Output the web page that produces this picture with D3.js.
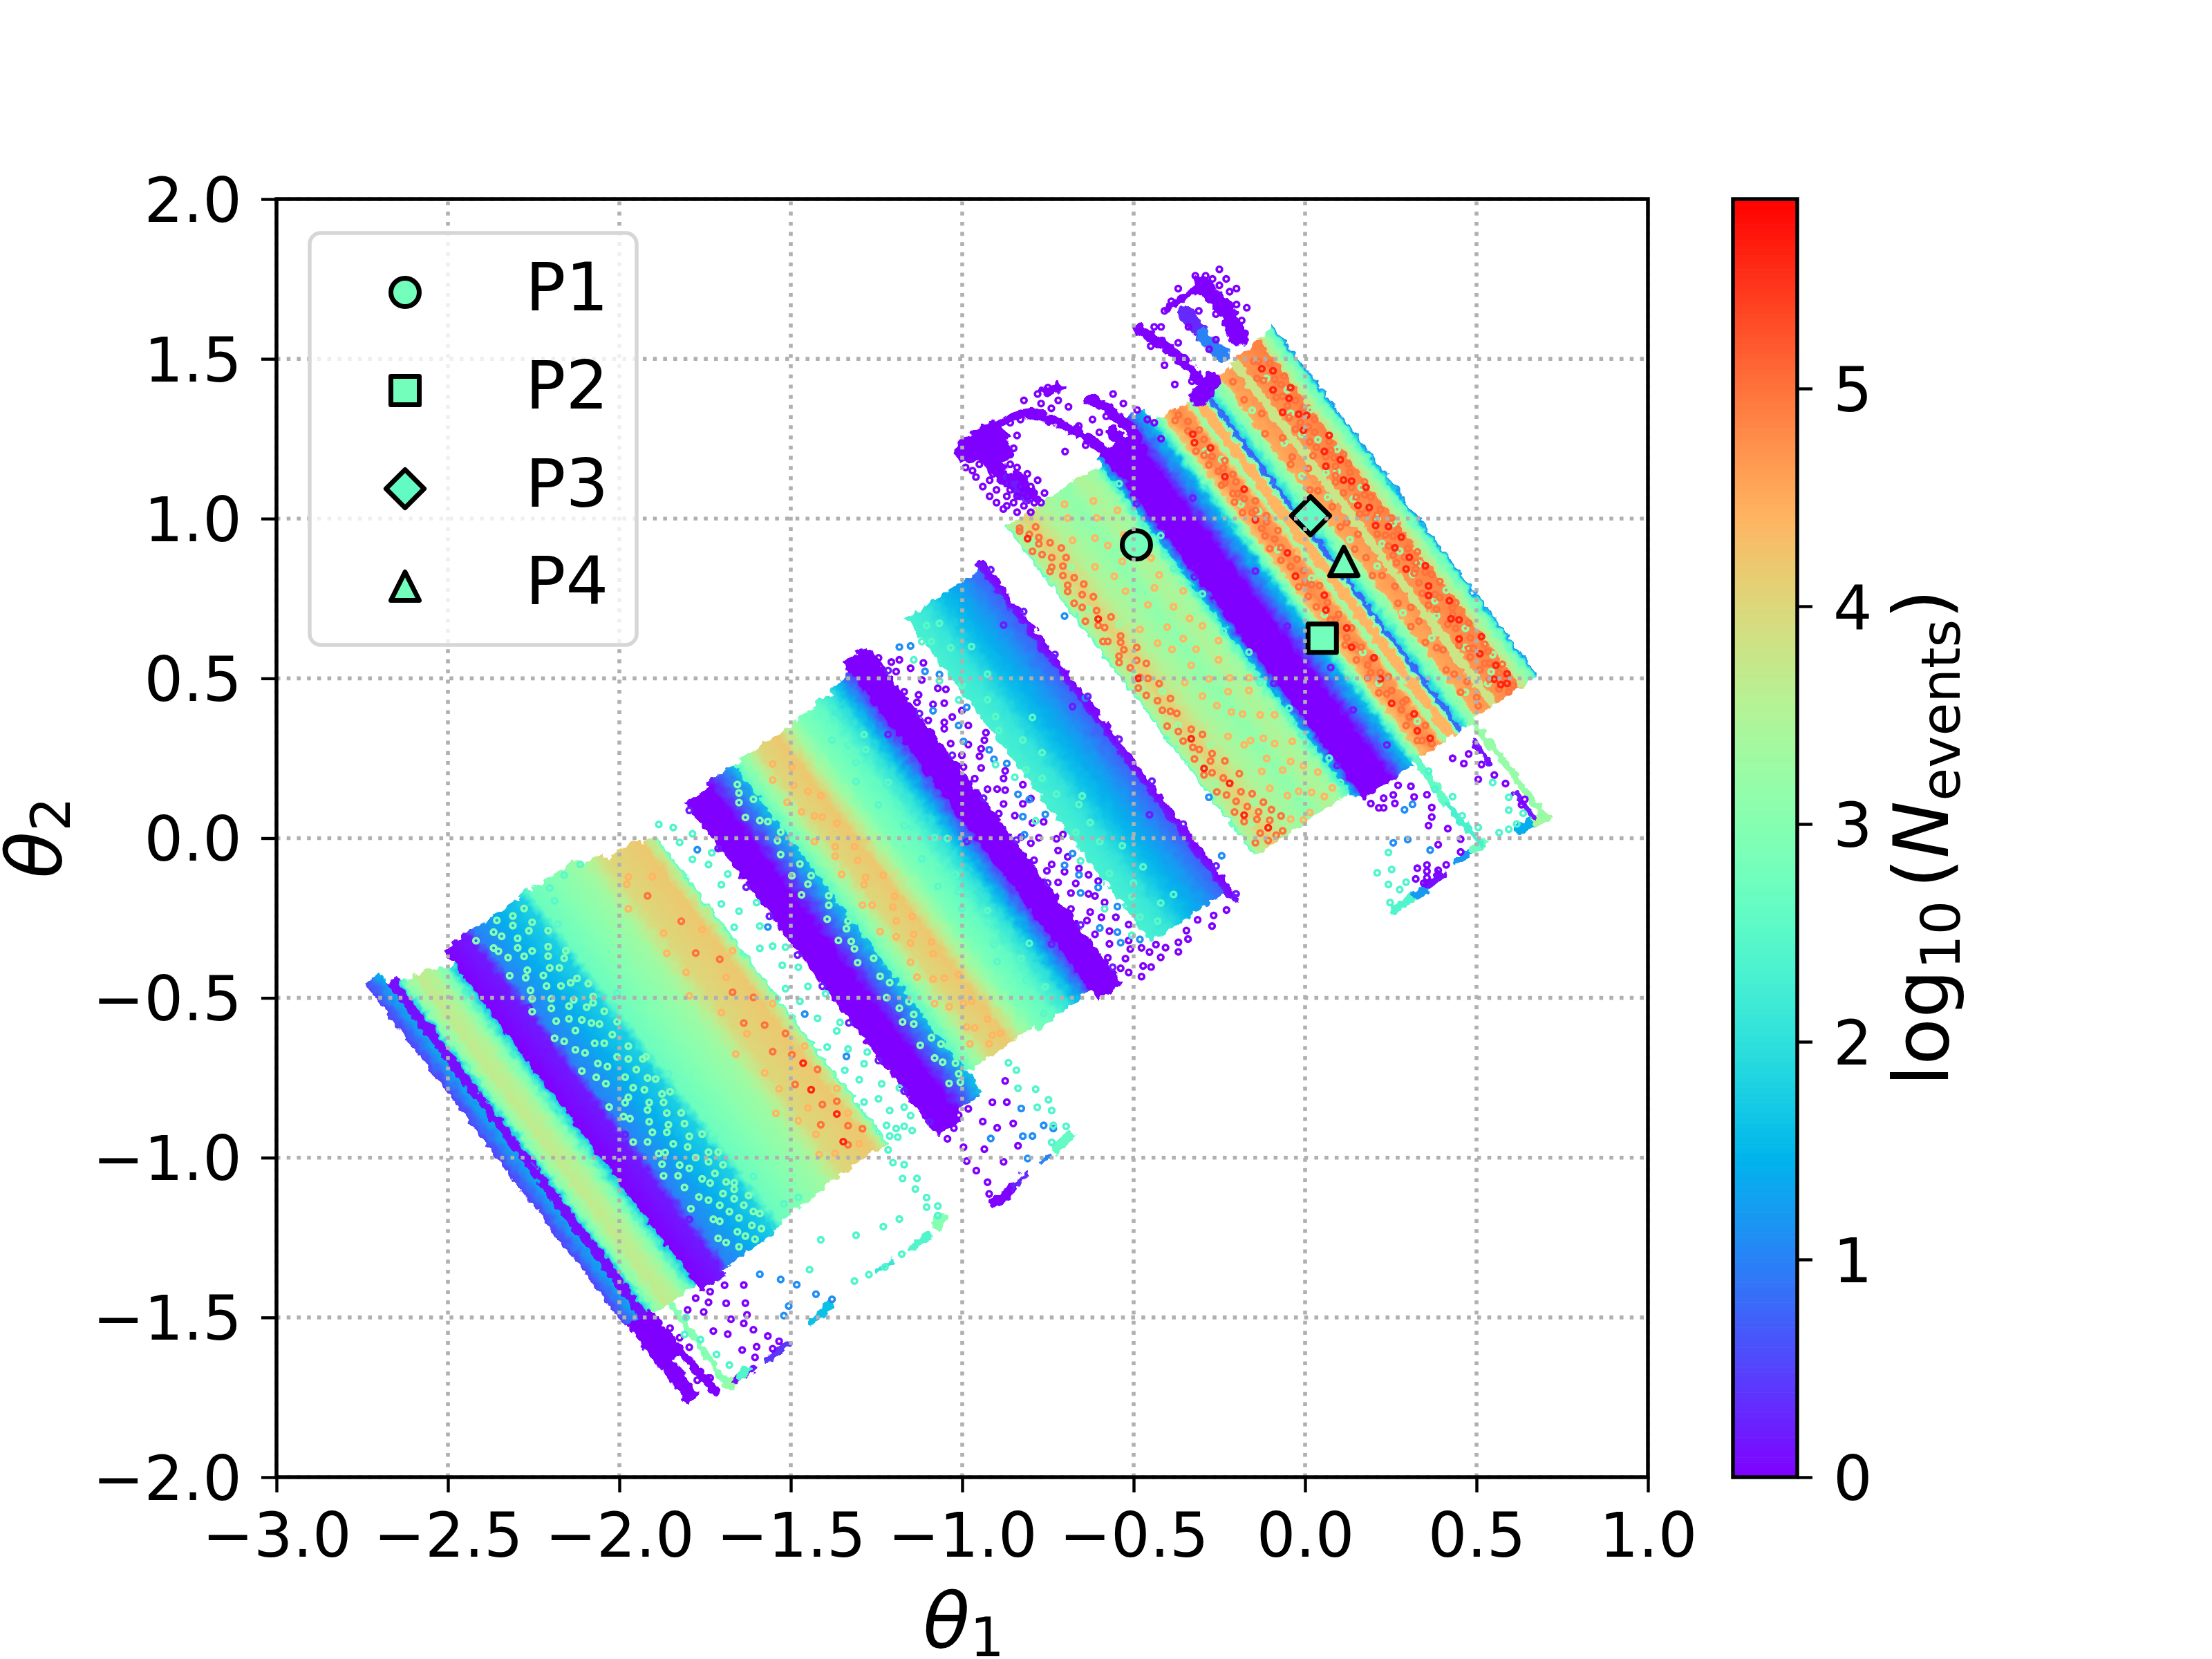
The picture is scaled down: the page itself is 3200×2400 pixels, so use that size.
<!DOCTYPE html>
<html>
<head>
<meta charset="utf-8">
<script src="https://cdn.jsdelivr.net/npm/d3@7"></script>
<style>
  body { margin: 0; background: #fff; }
  text { font-family: "DejaVu Sans"; fill: #000; }
</style>
</head>
<body>
<div id="holder"></div>
<script>
var width = 3200;
var height = 2400;
var frame = {left: 400, right: 2384, top: 288, bottom: 2137};
var xTicks = [-3, -2.5, -2, -1.5, -1, -0.5, 0, 0.5, 1];
var yTicks = [-2, -1.5, -1, -0.5, 0, 0.5, 1, 1.5, 2];
var barTicks = [0, 1, 2, 3, 4, 5];
var barMax = 5.87;

// benchmark points
var pointNames = ["P1", "P2", "P3", "P4"];
var pointTheta1 = [-0.492, 0.05, 0.016, 0.113];
var pointTheta2 = [0.918, 0.626, 1.009, 0.866];
var pointValue = [2.8, 2.8, 2.6, 2.8];

// scan strips, along the rotated axes
// c = theta2 + 1.418 theta1, s = theta2 - 0.72 theta1
// each row: c0, c1, log N at c0, log N at c1, s0, s1
var bandsLow = [
  [-4.325,-4.25,0,0,-0.47,-0.09], [-4.25,-4.2,0,0,-0.3,-0.09],
  [-4.34,-4.25,0.5,1.4,-0.1,1.52], [-4.25,-4.2,0.1,0.1,-0.1,1.47], [-4.2,-4.17,1.8,3.0,-0.11,1.45],
  [-4.17,-4.1,3.0,3.7,-0.118,1.44], [-4.1,-4.03,3.7,3.5,-0.118,1.43], [-4.03,-3.97,3.5,2.9,-0.118,1.41],
  [-3.97,-3.91,2.9,1.6,-0.118,1.39], [-3.91,-3.76,0,0.2,-0.148,1.458], [-3.76,-3.72,0.3,1.0,-0.13,1.46],
  [-3.72,-3.42,1.0,1.8,-0.12,1.46], [-3.42,-3.37,1.9,2.7,-0.11,1.47], [-3.37,-3.07,2.7,3.3,-0.09,1.46],
  [-3.07,-2.95,3.3,4.0,-0.075,1.43], [-2.95,-2.76,4.0,4.2,-0.075,1.4], [-2.76,-2.7,4.2,3.5,-0.075,1.37],
  [-2.7,-2.68,3.5,2.6,-0.075,1.36]
];
var bandsMiddle = [
  [-2.45,-2.3,0,0,-0.16,1.41], [-2.3,-2.13,0,1.6,-0.12,1.43], [-2.13,-2.06,2.6,3.2,-0.02,1.43],
  [-2.06,-1.98,3.2,4.0,-0.02,1.43], [-1.98,-1.86,4.0,4.2,-0.02,1.43], [-1.86,-1.78,4.2,3.4,-0.02,1.43],
  [-1.78,-1.71,3.4,2.9,-0.02,1.43], [-1.71,-1.6,2.9,2.6,-0.04,1.44], [-1.6,-1.5,2.6,2.0,-0.03,1.45],
  [-1.5,-1.43,2.0,1.3,-0.03,1.46], [-1.43,-1.36,1.3,0.4,-0.02,1.47], [-1.36,-1.21,0,0,-0.07,1.52],
  [-0.96,-0.85,2.3,2.1,0,1.52], [-0.85,-0.75,2.1,1.6,0,1.52], [-0.75,-0.62,1.6,1.2,0,1.52],
  [-0.62,-0.5,1.2,0.7,0,1.52], [-0.5,-0.465,0.2,0,-0.05,1.55]
];
var bandsHigh = [
  [-0.26,-0.245,2.6,3.4,0.05,1.6], [-0.245,-0.15,3.4,4.1,0.05,1.6], [-0.15,-0.05,4.1,3.5,0.05,1.6],
  [-0.05,0.1,3.5,3.1,0.05,1.6], [0.1,0.2,3.1,3.5,0.05,1.6], [0.2,0.29,3.5,3.2,0.05,1.6],
  [0.29,0.33,3.0,2.2,0.05,1.58], [0.33,0.37,1.5,0.3,0.02,1.62], [0.37,0.53,0,0,0,1.63], [0.53,0.55,0,0,0,1.68],
  [0.55,0.61,0.1,0.9,0,1.69], [0.61,0.67,0.9,1.6,0,1.68], [0.67,0.7,1.8,2.7,0.015,1.62],
  [0.7,0.74,2.7,3.7,0.015,1.615], [0.74,0.8,4.3,4.8,0.015,1.615], [0.8,0.86,4.8,4.6,0.015,1.61],
  [0.86,0.885,4.4,3.2,0.015,1.61], [0.885,0.905,3.2,3.6,0.015,1.605], [0.905,0.955,4.4,4.4,0.015,1.605],
  [0.955,0.972,3.4,2.4,0.015,1.605], [0.972,0.995,0.9,0.6,0.015,1.605], [0.995,1.03,1.8,2.6,0.015,1.61],
  [1.03,1.06,2.7,3.2,0.015,1.62], [1.06,1.09,3.0,3.6,0.025,1.62], [1.09,1.18,4.5,4.7,0.025,1.63],
  [1.18,1.225,3.8,3.8,0.025,1.64], [1.225,1.37,4.7,4.9,0.025,1.65], [1.37,1.42,3.8,3.1,0.025,1.66],
  [1.42,1.455,3.0,2.6,0.025,1.665], [1.455,1.47,2.4,1.2,0.025,1.67]
];

// thin tails below the blocks, as c, s chains: log N, stroke, then c,s pairs
var tailPaths = [
  [0, 12, -4.2,-0.12, -4.19,-0.3, -4.17,-0.49],
  [3.0, 9, -4.08,-0.13, -4.09,-0.3, -4.1,-0.49], [3.2, 13, -4.11,-0.5, -4.05,-0.5],
  [0.1, 12, -4.05,-0.5, -3.95,-0.5], [2.4, 13, -4.02,-0.5, -3.97,-0.49], [0.4, 11, -3.85,-0.5, -3.72,-0.497],
  [1.6, 11, -3.55,-0.48, -3.43,-0.462], [2.1, 7, -3.12,-0.458, -3.03,-0.457], [2.4, 9, -2.92,-0.455, -2.8,-0.451],
  [3.0, 14, -2.74,-0.44, -2.694,-0.425],
  [0, 15, -2.427,-0.4885, -2.3,-0.48], [0.3, 8, -2.3,-0.48, -2.211,-0.467], [1.0, 7, -2.1,-0.46, -2.058,-0.458],
  [2.6, 13, -2.0,-0.45, -1.904,-0.44],
  [2.4, 13, 0.143,-0.412, 0.285,-0.412], [1.2, 13, 0.285,-0.412, 0.365,-0.405], [0.1, 13, 0.365,-0.405, 0.444,-0.4],
  [1.2, 11, 0.57,-0.39, 0.64,-0.39], [2.7, 11, 0.66,-0.388, 0.72,-0.387], [1.4, 15, 0.92,-0.42, 0.99,-0.43],
  [3.4, 15, 1.01,-0.43, 1.055,-0.44], [3.2, 10, 1.055,0.02, 1.06,-0.25, 1.056,-0.44], [2.6, 11, 0.71,0.01, 0.7,-0.1, 0.69,-0.2],
  [2.3, 9, 0.69,-0.2, 0.7,-0.3, 0.71,-0.385], [0.1, 8, 1.0,-0.05, 1.0,-0.15], [0.2, 8, 1.01,-0.3, 1.01,-0.42]
];

// top loops, in theta1, theta2
var loopPaths = [
  [0, 26, -0.3,1.731, -0.234,1.659, -0.193,1.566], [0.3, 22, -0.35,1.643, -0.299,1.576], [1.0, 20, -0.299,1.576, -0.241,1.509],
  [0, 10, -0.401,1.659, -0.311,1.721], [0, 16, -0.485,1.592, -0.401,1.535, -0.337,1.473, -0.286,1.4],
  [0, 26, -0.311,1.379, -0.27,1.43], [0, 36, -0.985,1.21, -0.916,1.265, -0.89,1.215], [0, 22, -0.93,1.2, -0.88,1.13],
  [0, 13, -0.916,1.276, -0.851,1.322, -0.8,1.333, -0.723,1.302, -0.646,1.26, -0.588,1.214, -0.556,1.162],
  [0, 11, -0.768,1.4, -0.71,1.41], [0, 15, -0.626,1.374, -0.569,1.338, -0.504,1.276, -0.47,1.2],
  [0, 20, -0.56,1.27, -0.5,1.19], [0.2, 16, -0.87,1.13, -0.81,1.06], [0, 12, -0.84,1.14, -0.79,1.07]
];
var loopRings = [
  -0.99,1.16, -0.96,1.13, -0.93,1.18, -0.91,1.14, -0.88,1.19, -0.86,1.13, -0.94,1.1, -0.9,1.09, -0.87,1.07, -0.84,1.16,
  -0.83,1.1, -0.81,1.14, -0.79,1.08, -0.78,1.12, -0.85,1.05, -0.82,1.04, -0.88,1.03, -0.9,1.05, -0.77,1.05, -0.86,1.2,
  -0.84,1.07, -0.79,1.05, -0.8,1.02, -0.75,1.41, -0.74,1.345, -0.78,1.39, -0.82,1.37, -0.72,1.37, -0.74,1.31, -0.62,1.31,
  -0.64,1.23, -0.7,1.21, -0.56,1.39, -0.42,1.6, -0.39,1.68, -0.37,1.72, -0.45,1.54, -0.37,1.55, -0.35,1.5, -0.25,1.73,
  -0.22,1.71, -0.2,1.67, -0.25,1.78, -0.29,1.76, -0.185,1.62, -0.38,1.42, -0.33,1.43,
  -0.97,1.15, -0.95,1.17, -0.92,1.12, -0.89,1.16, -0.87,1.11, -0.85,1.13, -0.83,1.13, -0.92,1.07, -0.86,1.09, -0.82,1.08,
  -0.8,1.1, -0.78,1.06, -0.76,1.08, -0.87,1.04, -0.84,1.02, -0.81,1.07, -0.86,1.17, -0.85,1.22, -0.89,1.24, -0.84,1.26,
  -0.86,1.3, -0.83,1.31, -0.77,1.36, -0.69,1.35, -0.66,1.29, -0.6,1.27, -0.58,1.32, -0.53,1.36, -0.49,1.34, -0.46,1.31,
  -0.42,1.25, -0.44,1.3, -0.41,1.48, -0.44,1.6, -0.41,1.65, -0.36,1.69, -0.32,1.76, -0.27,1.75, -0.23,1.75, -0.2,1.72,
  -0.17,1.66, -0.175,1.58, -0.21,1.61, -0.26,1.64, -0.31,1.65, -0.34,1.6, -0.28,1.53, -0.26,1.56
];

// orange and red rings over the strips, as flat c, s pairs
var ringsRed = [
  1.29,1.56, 1.33,1.53, 1.27,1.47, 1.35,1.44, 1.31,1.41, 1.24,1.38, 1.3,1.34, 1.33,1.32, 1.27,1.28, 1.36,1.21,
  1.29,1.17, 1.25,1.12, 1.33,1.11, 1.28,1.04, 1.31,1.02, 1.35,0.97, 1.26,0.93, 1.3,0.9, 1.27,0.83, 1.32,0.8,
  1.34,0.74, 1.28,0.72, 1.31,0.66, 1.26,0.63, 1.35,0.6, 1.3,0.53, 1.27,0.5, 1.34,0.44, 1.29,0.38, 1.32,0.36,
  1.26,0.3, 1.36,0.26, 1.3,0.21, 1.33,0.14, 1.28,0.1, 1.35,0.09, 1.32,0.06, 1.29,0.07,
  0.8,1.5, 0.78,1.47, 0.83,1.42, 0.8,1.3, 0.84,1.22, 0.79,1.1, 0.82,0.93, 0.78,0.84, 0.84,0.72, 0.8,0.67,
  0.83,0.57, 0.79,0.5, 0.85,0.42, 0.81,0.34, 0.78,0.24, 0.84,0.16, 0.8,0.1, 0.83,0.05,
  -0.19,0.85, -0.16,0.55, -0.2,0.43, -0.14,0.33, -0.18,0.2, -0.12,0.11, -0.21,1.52, -0.17,1.12, -2.83,0.25, -2.8,0.12, -2.86,0.02, -2.78,0.35
];
var ringsOrangeDeep = [
  1.28,1.6, 1.24,1.54, 1.34,1.56, 1.31,1.5, 1.26,1.44, 1.36,1.49, 1.29,1.43, 1.33,1.39, 1.25,1.35, 1.28,1.31,
  1.35,1.29, 1.31,1.25, 1.26,1.23, 1.34,1.19, 1.23,1.18, 1.28,1.15, 1.31,1.13, 1.36,1.12, 1.26,1.07, 1.33,1.05,
  1.29,1.0, 1.24,1.0, 1.36,0.99, 1.32,0.95, 1.27,0.89, 1.34,0.87, 1.29,0.85, 1.25,0.8, 1.36,0.82, 1.31,0.76,
  1.26,0.74, 1.33,0.69, 1.29,0.67, 1.24,0.67, 1.36,0.66, 1.3,0.61, 1.33,0.58, 1.27,0.56, 1.25,0.52, 1.36,0.52,
  1.31,0.47, 1.26,0.44, 1.33,0.41, 1.28,0.34, 1.35,0.33, 1.24,0.28, 1.31,0.28, 1.27,0.25, 1.34,0.2, 1.29,0.17,
  1.25,0.16, 1.32,0.11, 1.36,0.13, 1.27,0.06, 1.34,0.04,
  1.12,1.5, 1.15,1.42, 1.1,1.35, 1.14,1.22, 1.17,1.15, 1.11,1.08, 1.15,0.98, 1.12,0.9, 1.17,0.84, 1.13,0.75,
  1.1,0.68, 1.16,0.6, 1.12,0.54, 1.15,0.44, 1.11,0.36, 1.16,0.3, 1.13,0.2, 1.1,0.13, 1.15,0.08,
  0.77,1.58, 0.82,1.55, 0.79,1.52, 0.76,1.44, 0.83,1.46, 0.81,1.39, 0.77,1.37, 0.85,1.35, 0.79,1.33, 0.76,1.28,
  0.83,1.26, 0.78,1.23, 0.81,1.19, 0.85,1.16, 0.76,1.15, 0.8,1.13, 0.83,1.07, 0.78,1.03, 0.85,1.02, 0.76,0.98,
  0.81,0.96, 0.84,0.89, 0.79,0.88, 0.76,0.8, 0.82,0.78, 0.85,0.76, 0.77,0.7, 0.81,0.62, 0.84,0.63, 0.77,0.58,
  0.8,0.54, 0.83,0.48, 0.77,0.45, 0.79,0.38, 0.85,0.33, 0.82,0.28, 0.76,0.3, 0.8,0.2, 0.83,0.22, 0.77,0.14, 0.85,0.1, 0.79,0.06,
  -0.22,1.56, -0.19,1.53, -0.16,1.5, -0.23,1.47, -0.2,1.44, -0.13,1.46, -0.17,1.41, -0.22,1.37, -0.11,1.38, -0.18,1.33,
  -0.14,1.3, -0.21,1.27, -0.16,1.23, -0.2,1.19, -0.12,1.2, -0.23,1.14, -0.17,1.08, -0.2,1.03, -0.13,1.02, -0.16,0.97,
  -0.22,0.94, -0.19,0.9, -0.11,0.88, -0.15,0.83, -0.21,0.78, -0.18,0.74, -0.12,0.72, -0.16,0.68, -0.22,0.64, -0.19,0.6,
  -0.13,0.58, -0.16,0.5, -0.21,0.48, -0.12,0.46, -0.18,0.4, -0.09,0.41, -0.15,0.36, -0.22,0.33, -0.12,0.28, -0.17,0.26,
  -0.08,0.25, -0.2,0.18, -0.14,0.16, -0.09,0.13, -0.17,0.11, -0.05,0.16, -0.22,0.09, -0.11,0.07,
  -2.9,1.2, -2.84,1.05, -2.88,0.92, -2.8,0.85, -2.85,0.72, -2.78,0.66, -2.9,0.6, -2.82,0.55, -2.76,0.48, -2.87,0.45,
  -2.8,0.4, -2.74,0.3, -2.88,0.3, -2.83,0.18, -2.76,0.16, -2.9,0.12, -2.79,0.06, -2.85,0.0, -2.74,0.02,
  1.3,1.59, 1.26,1.52, 1.32,1.47, 1.28,1.39, 1.34,1.35, 1.24,1.3, 1.3,1.28, 1.27,1.2, 1.32,1.16, 1.35,1.08,
  1.29,1.1, 1.24,1.05, 1.28,0.96, 1.34,0.93, 1.24,0.9, 1.31,0.86, 1.28,0.78, 1.35,0.77, 1.25,0.7, 1.32,0.63,
  1.28,0.6, 1.35,0.56, 1.3,0.49, 1.24,0.47, 1.36,0.42, 1.31,0.39, 1.26,0.37, 1.35,0.23, 1.29,0.24, 1.25,0.22,
  1.31,0.16, 1.26,0.11, 1.33,0.08, 1.3,0.03, 1.13,1.58, 1.16,1.3, 1.11,1.2, 1.14,1.06, 1.16,0.9, 1.11,0.8,
  1.14,0.66, 1.16,0.5, 1.1,0.44, 1.14,0.32, 1.11,0.23, 1.16,0.15, 1.13,0.05,
  0.8,1.59, 0.84,1.5, 0.78,1.41, 0.82,1.33, 0.78,1.28, 0.84,1.29, 0.8,1.22, 0.76,1.2, 0.82,1.13, 0.79,1.06,
  0.85,1.09, 0.81,1.0, 0.77,0.92, 0.83,0.84, 0.8,0.8, 0.77,0.75, 0.83,0.69, 0.79,0.63, 0.85,0.56, 0.81,0.5,
  0.77,0.52, 0.84,0.42, 0.8,0.41, 0.76,0.37, 0.83,0.36, 0.79,0.28, 0.85,0.22, 0.81,0.16, 0.77,0.07, 0.82,0.03,
  -0.21,1.57, -0.14,1.54, -0.18,1.48, -0.1,1.42, -0.2,1.38, -0.15,1.36, -0.19,1.29, -0.12,1.26, -0.22,1.22, -0.15,1.15,
  -0.19,1.1, -0.11,1.1, -0.22,1.04, -0.15,1.0, -0.2,0.96, -0.1,0.95, -0.14,0.91, -0.18,0.85, -0.22,0.82, -0.12,0.79,
  -0.19,0.7, -0.14,0.66, -0.2,0.56, -0.1,0.54, -0.18,0.52, -0.15,0.44, -0.22,0.41, -0.07,0.34, -0.19,0.3, -0.14,0.22,
  -0.06,0.2, -0.21,0.23, -0.11,0.18, -0.03,0.12, -0.16,0.07, -0.07,0.07
];
var ringsOrangeLight = [
  0.02,1.5, 0.14,1.44, 0.07,1.38, 0.2,1.33, -0.02,1.29, 0.11,1.25, 0.24,1.2, 0.03,1.15, 0.16,1.1, 0.27,1.03,
  -0.03,1.0, 0.09,0.95, 0.21,0.93, 0.04,0.87, 0.14,0.82, 0.26,0.8, -0.01,0.74, 0.1,0.7, 0.19,0.66, 0.05,0.6,
  0.23,0.58, 0.13,0.52, 0.0,0.48, 0.08,0.42, 0.26,0.45, 0.17,0.36, 0.03,0.3, 0.12,0.26, 0.22,0.23, 0.06,0.17,
  0.17,0.13, 0.27,0.1, 0.0,0.09, 0.1,0.07,
  0.05,1.55, 0.18,1.5, -0.03,1.42, 0.25,1.42, 0.1,1.33, 0.16,1.26, 0.03,1.22, 0.22,1.13, 0.08,1.06, 0.18,1.0,
  0.0,0.92, 0.24,0.88, 0.12,0.88, 0.07,0.78, 0.2,0.74, 0.02,0.66, 0.14,0.62, 0.27,0.62, 0.09,0.55, 0.2,0.48,
  0.04,0.42, 0.14,0.4, 0.25,0.33, 0.09,0.33, 0.18,0.27, 0.01,0.23, 0.26,0.18, 0.12,0.16, 0.21,0.09, 0.05,0.06,
  -2.02,1.3, -1.95,1.24, -1.9,1.3, -2.0,1.14, -1.93,1.08, -1.87,1.15, -2.04,1.02, -1.97,0.96, -1.89,0.92, -2.03,0.86,
  -1.94,0.8, -1.86,0.77, -2.0,0.7, -1.92,0.65, -2.05,0.6, -1.87,0.58, -1.96,0.5, -2.02,0.44, -1.9,0.42, -1.98,0.34,
  -1.86,0.3, -2.05,0.26, -1.93,0.2, -1.99,0.12, -1.88,0.1, -2.03,0.06, -1.95,0.02, -1.87,0.03,
  -1.97,1.35, -1.91,1.19, -2.03,1.2, -1.96,1.1, -1.89,1.03, -2.0,0.93, -1.92,0.87, -1.97,0.78, -2.04,0.72, -1.88,0.68,
  -1.95,0.6, -2.0,0.55, -1.92,0.52, -1.87,0.46, -2.04,0.38, -1.93,0.32, -2.0,0.22, -1.89,0.19, -1.96,0.1, -1.91,0.04,
  -3.02,1.2, -2.95,1.28, -3.0,0.98, -3.04,0.8, -2.96,0.68, -3.03,0.52, -2.97,0.4, -3.05,0.25, -2.95,0.1, -3.0,0.03, -2.72,0.6, -2.72,0.2,
  -2.92,1.3, -2.82,1.25, -2.95,1.05, -2.78,0.98, -2.98,0.88, -2.83,0.78, -2.92,0.56, -2.72,0.85, -2.96,0.32, -2.72,0.4,
  -2.9,0.2, -2.98,0.18, -2.75,0.1, -2.93,0.0, -2.8,-0.02
];
var ringsGreenOnOrange = [
  1.28,1.52, 1.33,1.44, 1.27,1.36, 1.36,1.33, 1.3,1.22, 1.25,1.27, 1.35,1.15, 1.28,1.08, 1.23,1.1, 1.33,0.98,
  1.26,0.96, 1.3,0.85, 1.35,0.8, 1.24,0.76, 1.29,0.7, 1.33,0.62, 1.27,0.6, 1.36,0.48, 1.28,0.47, 1.24,0.42, 1.32,0.32,
  1.26,0.26, 1.35,0.18, 1.29,0.13, 1.24,0.1, 1.12,1.45, 1.15,1.28, 1.12,1.14, 1.16,1.02, 1.12,0.84, 1.15,0.7, 1.11,0.5, 1.15,0.36,
  1.12,0.12, 0.8,1.42, 0.84,1.36, 0.78,1.18, 0.83,1.12, 0.79,0.96, 0.84,0.8, 0.78,0.66, 0.82,0.46, 0.79,0.33, 0.83,0.13,
  -0.2,1.5, -0.12,1.34, -0.18,1.17, -0.1,1.06, -0.2,0.87, -0.13,0.76, -0.17,0.62, -0.1,0.49, -0.2,0.36, -0.1,0.22, -0.17,0.16
];
var ringsGreenOnBlue = [
  -3.7,1.36, -3.63,1.38, -3.55,1.39, -3.67,1.3, -3.6,1.31, -3.5,1.34, -3.72,1.24, -3.63,1.22, -3.55,1.27, -3.47,1.25,
  -3.58,1.17, -3.68,1.15, -3.49,1.16, -3.74,1.08, -3.62,1.08, -3.54,1.1, -3.45,1.09, -3.67,1.0, -3.57,1.02, -3.5,0.98,
  -3.73,0.95, -3.62,0.93, -3.53,0.92, -3.44,0.93, -3.68,0.87, -3.58,0.85, -3.48,0.84, -3.72,0.79, -3.63,0.78, -3.53,0.76,
  -3.45,0.77, -3.66,0.7, -3.56,0.68, -3.49,0.68, -3.72,0.62, -3.61,0.61, -3.52,0.6, -3.44,0.61, -3.67,0.54, -3.57,0.53,
  -3.48,0.52, -3.73,0.46, -3.62,0.45, -3.53,0.44, -3.44,0.45, -3.66,0.37, -3.57,0.37, -3.48,0.36, -3.71,0.29, -3.61,0.29,
  -3.52,0.28, -3.45,0.27, -3.66,0.21, -3.56,0.2, -3.49,0.19, -3.7,0.13, -3.6,0.12, -3.52,0.11, -3.44,0.12, -3.64,0.05,
  -3.55,0.04, -3.47,0.03, -3.68,-0.02, -3.58,-0.04, -3.5,-0.05, -3.43,-0.03, -3.62,-0.09, -3.53,-0.1,
  -3.75,1.42, -3.6,1.44, -3.45,1.42, -3.41,1.2, -3.41,0.7, -3.41,0.25, -3.44,1.0, -3.46,0.55, -3.46,0.1,
  -3.65,1.41, -3.52,1.42, -3.69,1.34, -3.57,1.34, -3.46,1.36, -3.6,1.27, -3.5,1.22, -3.42,1.3, -3.66,1.2, -3.53,1.18,
  -3.44,1.18, -3.7,1.12, -3.6,1.13, -3.49,1.09, -3.42,1.05, -3.65,1.05, -3.53,1.03, -3.61,0.98, -3.46,0.98, -3.7,0.92,
  -3.56,0.95, -3.5,0.9, -3.42,0.87, -3.65,0.84, -3.54,0.83, -3.6,0.75, -3.49,0.73, -3.43,0.7, -3.68,0.74, -3.56,0.63,
  -3.47,0.63, -3.64,0.6, -3.69,0.56, -3.54,0.55, -3.42,0.54, -3.6,0.49, -3.5,0.48, -3.67,0.43, -3.56,0.42, -3.46,0.41,
  -3.63,0.36, -3.52,0.33, -3.42,0.34, -3.68,0.33, -3.58,0.26, -3.48,0.24, -3.43,0.2, -3.65,0.26, -3.54,0.17, -3.63,0.15,
  -3.47,0.14, -3.57,0.08, -3.49,0.07, -3.42,0.05, -3.62,0.03, -3.53,0.0, -3.45,-0.01, -3.66,-0.05, -3.56,-0.07, -3.47,-0.08,
  -2.23,1.3, -2.18,1.36, -2.2,1.2, -2.15,1.12, -2.22,1.05, -2.17,0.98, -2.2,0.9, -2.15,0.82, -2.23,0.75, -2.18,0.68,
  -2.21,0.6, -2.16,0.53, -2.19,0.46, -2.23,0.38, -2.15,0.32, -2.2,0.24, -2.17,0.16, -2.22,0.09, -2.15,0.03, -2.19,-0.04, -2.24,0.16, -2.24,0.55,
  -2.16,1.28, -2.2,1.33, -2.25,1.24, -2.17,1.18, -2.19,1.1, -2.24,0.96, -2.16,0.92, -2.18,0.79, -2.15,0.7, -2.2,0.63,
  -2.25,0.66, -2.17,0.42, -2.21,0.32, -2.17,0.27, -2.24,0.27, -2.15,0.12, -2.2,0.06, -2.17,-0.01, -2.24,-0.02, -2.26,0.88
];
var ringsCyanEdge = [
  -0.93,1.4, -0.87,1.34, -0.94,1.2, -0.88,1.1, -0.93,0.98, -0.86,0.9, -0.94,0.8, -0.89,0.66, -0.83,0.58, -0.93,0.5,
  -0.86,0.42, -0.92,0.3, -0.85,0.22, -0.93,0.1, -0.87,0.05, -0.78,1.3, -0.75,0.95, -0.79,0.6, -0.76,0.25, -0.72,0.1,
  -0.9,1.46, -0.84,1.44, -0.8,1.18, -0.9,1.03, -0.82,0.82, -0.9,0.74, -0.84,0.5, -0.78,0.36, -0.9,0.18, -0.8,0.1,
  -1.65,1.3, -1.58,1.36, -1.62,1.18, -1.55,1.05, -1.66,1.0, -1.59,0.86, -1.65,0.74, -1.56,0.62, -1.64,0.5, -1.58,0.4,
  -1.66,0.26, -1.6,0.14, -1.54,0.08, -1.63,0.0, -1.5,1.25, -1.48,0.75, -1.47,0.25,
  -1.6,1.25, -1.54,1.2, -1.68,1.12, -1.58,0.96, -1.62,0.88, -1.53,0.78, -1.67,0.62, -1.6,0.56, -1.54,0.44, -1.62,0.32, -1.55,0.22,
  0.34,1.5, 0.31,1.38, 0.35,1.25, 0.3,1.12, 0.34,0.98, 0.31,0.82, 0.35,0.7, 0.3,0.58, 0.34,0.44, 0.31,0.33, 0.35,0.2, 0.32,0.1,
  -3.28,1.43, -3.18,1.44, -3.08,1.44, -3.3,1.38, -3.36,1.3, -3.33,0.96, -3.37,0.6, -3.34,0.1, -3.3,-0.05, -3.22,-0.06
];
var ringsPurpleOnBlue = [
  0.6,1.3, 0.63,0.94, 0.59,0.7, 0.64,0.48, 0.6,0.3, 0.63,0.12, 0.35,1.4, 0.36,1.05, 0.355,0.55, 0.36,0.16,
  -0.58,1.3, -0.55,0.9, -0.57,0.4, -1.4,1.2, -1.41,0.7, -1.38,0.2, -3.74,1.1, -3.74,0.5, -3.74,0.1,
  -2.46,1.38, -2.46,1.2, -2.465,1.02, -2.46,0.88, -2.465,0.7, -2.46,0.55, -2.465,0.38, -2.46,0.2, -2.45,0.05, -2.44,-0.1,
  -1.2,1.4, -1.205,1.2, -1.2,1.0, -1.205,0.8, -1.2,0.6, -1.205,0.4, -1.2,0.2, -1.2,0.0,
  -0.46,1.5, -0.455,1.3, -0.46,1.1, -0.455,0.9, -0.46,0.7, -0.455,0.5, -0.46,0.3, -0.455,0.1, -0.46,-0.03
];

// loose rings in the gaps between blocks
var gapPurple = [
  -1.2,1.46, -1.17,1.38, -1.12,1.41, -1.2,1.3, -1.15,1.26, -1.09,1.3, -1.03,1.35, -1.19,1.16, -1.13,1.12, -1.07,1.18,
  -1.02,1.22, -1.17,1.04, -1.1,1.0, -1.04,1.06, -1.19,0.94, -1.12,0.9, -1.06,0.96, -0.99,1.0, -1.16,0.82, -1.09,0.78,
  -1.03,0.84, -1.19,0.72, -1.13,0.68, -1.06,0.7, -1.0,0.76, -1.17,0.6, -1.1,0.56, -1.03,0.6, -1.19,0.5, -1.13,0.45,
  -1.06,0.48, -0.99,0.52, -1.16,0.38, -1.09,0.34, -1.03,0.38, -1.19,0.27, -1.12,0.22, -1.05,0.26, -0.99,0.3, -1.17,0.14,
  -1.1,0.12, -1.03,0.15, -1.19,0.04, -1.12,0.0, -1.05,0.05, -1.0,0.1, -1.15,-0.05, -1.07,-0.06, -1.0,-0.03, -0.95,-0.02,
  -0.92,-0.05, -0.85,-0.06, -0.78,-0.04, -0.7,-0.03, -0.62,-0.05, -0.55,-0.06,
  -1.16,1.42, -1.1,1.36, -1.18,1.24, -1.12,1.2, -1.05,1.24, -1.15,1.1, -1.08,1.12, -1.02,1.12, -1.16,0.98, -1.09,0.94,
  -1.02,0.98, -1.18,0.88, -1.12,0.8, -1.06,0.82, -1.01,0.7, -1.14,0.74, -1.15,0.56, -1.08,0.62, -1.03,0.52, -1.17,0.44,
  -1.1,0.4, -1.04,0.44, -1.14,0.32, -1.07,0.28, -1.01,0.34, -1.16,0.2, -1.09,0.18, -1.03,0.22, -1.14,0.08, -1.07,0.02,
  -1.02,0.0, -1.17,-0.02, -1.11,-0.09, -1.04,-0.08, -0.97,-0.07, -0.88,-0.09, -0.8,-0.07, -0.66,-0.08,
  -2.42,-0.19, -2.36,-0.17, -2.3,-0.14, -2.24,-0.14, -2.38,-0.25, -2.41,-0.3, -2.4,-0.35, -2.39,-0.41, -2.42,-0.45, -2.3,-0.3,
  -2.26,-0.38, -2.18,-0.26, -2.15,-0.36, -2.1,-0.28, -2.22,-0.21, -2.12,-0.17, -2.06,-0.2, -2.0,-0.13,
  -4.16,-0.2, -4.14,-0.3, -4.17,-0.4, -4.03,-0.18, -3.97,-0.22, -3.92,-0.2, -3.99,-0.3, -3.94,-0.34, -3.88,-0.3, -3.93,-0.42,
  -3.86,-0.44, -3.82,-0.38, -3.78,-0.43, -3.9,-0.47, -3.8,-0.48, -3.75,-0.47, -3.85,-0.24, -3.8,-0.18, -3.77,-0.28,
  -4.19,-0.16, -4.15,-0.25, -4.18,-0.34, -4.15,-0.44, -4.21,-0.42, -3.96,-0.16, -3.88,-0.17, -3.84,-0.34, -3.8,-0.32, -3.72,-0.22,
  0.4,-0.06, 0.45,-0.04, 0.5,-0.05, 0.55,-0.03, 0.58,-0.1, 0.62,-0.17, 0.59,-0.2, 0.55,-0.22, 0.62,-0.27, 0.53,-0.3,
  0.42,-0.34, 0.38,-0.38, 0.33,-0.36, 0.37,-0.33, 0.45,-0.38, 0.5,-0.38, 0.64,-0.33, 0.6,-0.37,
  0.86,-0.06, 0.89,-0.1, 0.94,-0.08, 0.96,-0.14, 0.98,-0.2, 1.0,-0.25, 0.9,-0.18, 1.03,-0.34, 1.0,-0.35,
  0.38,-0.03, 0.42,-0.07, 0.48,-0.08, 0.6,-0.06, 0.64,-0.12, 0.4,-0.36, 0.35,-0.39
];
var gapBlue = [
  -1.08,1.45, -1.03,1.43, -1.0,1.28, -0.99,1.12, -1.08,1.08, -1.03,0.94, -1.0,0.86, -1.1,0.66, -1.02,0.7, -1.0,0.62,
  -1.08,0.42, -1.01,0.44, -1.1,0.3, -0.99,0.18, -1.07,0.1, -1.0,0.03, -0.47,0.9, -0.4,0.12, -0.3,1.2, -0.27,0.33,
  -2.24,-0.28, -2.1,-0.34, -2.02,-0.25, -2.06,-0.36, -2.15,-0.42, -1.98,-0.35, -1.95,-0.38, -3.62,-0.22, -3.55,-0.28, -3.5,-0.33,
  -3.45,-0.4, -3.4,-0.45, -3.65,-0.4, -3.6,-0.38, 0.55,-0.12, 0.35,-0.2, 0.42,-0.22, 0.48,-0.3, 0.5,-0.12,
  -1.14,1.18, -1.05,1.32, -1.11,1.02, -1.04,0.9, -1.15,0.6, -1.05,0.74, -1.01,0.28, -1.13,0.15, -1.05,0.36, -1.09,0.06,
  -2.62,0.5, -2.55,1.24, -2.5,0.85, -2.58,0.28
];
var gapCyan = [
  -1.06,1.38, -1.02,1.26, -1.0,1.16, -1.05,0.88, -1.01,0.8, -1.06,0.62, -1.0,0.4, -1.05,0.2, -1.02,0.06, -0.97,1.42,
  -2.63,1.4, -2.58,1.36, -2.52,1.3, -2.6,1.22, -2.55,1.17, -2.5,1.1, -2.62,1.02, -2.57,0.96, -2.47,0.95, -2.53,0.87,
  -2.6,0.8, -2.49,0.75, -2.56,0.7, -2.62,0.62, -2.52,0.58, -2.47,0.52, -2.58,0.46, -2.5,0.4, -2.63,0.35, -2.55,0.3,
  -2.48,0.25, -2.6,0.18, -2.52,0.12, -2.46,0.07, -2.57,0.02, -2.63,-0.02, -2.5,-0.04, -2.56,-0.06, -2.62,-0.08,
  -2.6,1.3, -2.5,1.2, -2.56,1.08, -2.64,0.92, -2.54,0.78, -2.5,0.66, -2.6,0.55, -2.54,0.38, -2.63,0.24, -2.53,0.22,
  -2.65,0.1, -2.58,0.08, -2.5,0.0, -2.6,-0.05, -2.65,-0.06, -2.54,-0.09,
  -2.7,-0.1, -2.72,-0.15, -2.68,-0.18, -2.73,-0.22, -2.67,-0.25, -2.71,-0.28, -2.69,-0.33, -2.72,-0.36, -2.67,-0.38, -2.7,-0.41,
  -3.1,-0.3, -2.96,-0.33, -2.87,-0.34, -3.26,-0.24, -3.25,-0.44, -3.17,-0.45, -3.08,-0.46, -2.97,-0.455, -3.4,-0.31,
  -2.0,-0.42, -1.94,-0.37, -1.9,-0.32, -1.95,-0.28, -1.9,-0.22, -1.97,-0.18, -1.92,-0.12, -1.89,-0.4, -1.93,-0.08, -1.88,-0.28,
  0.3,-0.22, 0.26,-0.28, 0.2,-0.32, 0.23,-0.36, 0.15,-0.38, 0.28,-0.35, 0.19,-0.26,
  0.72,-0.05, 0.69,-0.12, 0.74,-0.18, 0.72,-0.26, 0.75,-0.33, 0.95,-0.22, 0.97,-0.3, 0.93,-0.34, 0.98,-0.38, 0.92,-0.4, 0.82,-0.39, 0.87,-0.4,
  -4.06,-0.2, -4.07,-0.3, -4.05,-0.38, -4.12,-0.25, -4.03,-0.44
];

var xScale = d3.scaleLinear().domain([-3, 1]).range([frame.left, frame.right]);
var yScale = d3.scaleLinear().domain([-2, 2]).range([frame.bottom, frame.top]);
var barScale = d3.scaleLinear().domain([0, barMax]).range([frame.bottom, frame.top]);

var svg = d3.select("#holder").append("svg")
  .attr("width", width).attr("height", height)
  .style("display", "block");
svg.append("rect").attr("width", width).attr("height", height).attr("fill", "#fff");
var defs = svg.append("defs");

// roughen the strip edges, the real points never make a clean line
var rough = defs.append("filter").attr("id", "rough")
  .attr("filterUnits", "userSpaceOnUse")
  .attr("x", 0).attr("y", 0).attr("width", width).attr("height", height)
  .attr("color-interpolation-filters", "sRGB");
rough.append("feTurbulence").attr("type", "fractalNoise").attr("baseFrequency", 0.09)
  .attr("numOctaves", 2).attr("seed", 4).attr("result", "noise");
rough.append("feDisplacementMap").attr("in", "SourceGraphic").attr("in2", "noise")
  .attr("scale", 14).attr("xChannelSelector", "R").attr("yChannelSelector", "G");

// matplotlib's rainbow colormap
function rainbow(v) {
  var t = Math.min(1, Math.max(0, v / barMax));
  var r = Math.min(1, Math.abs(2 * t - 0.5));
  var g = Math.sin(Math.PI * t);
  var b = Math.cos(Math.PI * t / 2);
  return d3.rgb(r * 255, g * 255, b * 255).formatHex();
}

function csX(c, s) { return xScale((c - s) / 2.138); }
function csY(c, s) { return yScale(s + 0.72 * (c - s) / 2.138); }

// strips
var bands = bandsLow.concat(bandsMiddle, bandsHigh);
var normal = [502 / 630, -380 / 630];
var bandLayer = svg.append("g").attr("filter", "url(#rough)");

bands.forEach(function(b, i) {
  var x0 = csX(b[0], b[4]), y0 = csY(b[0], b[4]);
  var x1 = csX(b[1], b[4]), y1 = csY(b[1], b[4]);
  var d = (x1 - x0) * normal[0] + (y1 - y0) * normal[1];
  var grad = defs.append("linearGradient")
    .attr("id", "band" + i)
    .attr("gradientUnits", "userSpaceOnUse")
    .attr("x1", x0).attr("y1", y0)
    .attr("x2", x0 + normal[0] * d).attr("y2", y0 + normal[1] * d);
  [0, 0.5, 1].forEach(function(o) {
    grad.append("stop").attr("offset", o).attr("stop-color", rainbow(b[2] + (b[3] - b[2]) * o));
  });
});

bandLayer.selectAll("polygon").data(bands).enter().append("polygon")
  .attr("points", function(b) {
    return [[b[0], b[4]], [b[1], b[4]], [b[1], b[5]], [b[0], b[5]]]
      .map(function(p) { return csX(p[0], p[1]) + "," + csY(p[0], p[1]); }).join(" ");
  })
  .attr("fill", function(b, i) { return "url(#band" + i + ")"; })
  .attr("stroke", function(b, i) { return "url(#band" + i + ")"; })
  .attr("stroke-width", 2)
  .attr("stroke-linejoin", "round");

// chains
function chainPairs(row) {
  var out = [];
  for (var i = 2; i < row.length; i += 2) out.push([row[i], row[i + 1]]);
  return out;
}
var csLine = d3.line().x(function(p) { return csX(p[0], p[1]); }).y(function(p) { return csY(p[0], p[1]); });
var thetaLine = d3.line().x(function(p) { return xScale(p[0]); }).y(function(p) { return yScale(p[1]); });

svg.append("g").attr("filter", "url(#rough)").selectAll("path").data(tailPaths).enter().append("path")
  .attr("d", function(r) { return csLine(chainPairs(r)); })
  .attr("fill", "none")
  .attr("stroke", function(r) { return rainbow(r[0]); })
  .attr("stroke-width", function(r) { return r[1]; })
  .attr("stroke-linecap", "round").attr("stroke-linejoin", "round");

svg.append("g").attr("filter", "url(#rough)").selectAll("path").data(loopPaths).enter().append("path")
  .attr("d", function(r) { return thetaLine(chainPairs(r)); })
  .attr("fill", "none")
  .attr("stroke", function(r) { return rainbow(r[0]); })
  .attr("stroke-width", function(r) { return r[1]; })
  .attr("stroke-linecap", "round").attr("stroke-linejoin", "round");

// rings
function addRings(flat, v, toX, toY) {
  var pts = [];
  for (var i = 0; i < flat.length; i += 2) pts.push([flat[i], flat[i + 1]]);
  svg.append("g").selectAll("circle").data(pts).enter().append("circle")
    .attr("cx", function(p) { return toX(p[0], p[1]); })
    .attr("cy", function(p) { return toY(p[0], p[1]); })
    .attr("r", 3.9)
    .attr("fill", "none")
    .attr("stroke", rainbow(v))
    .attr("stroke-width", 3.6);
}
addRings(loopRings, 0, function(a) { return xScale(a); }, function(a, b) { return yScale(b); });
addRings(gapPurple, 0, csX, csY);
addRings(gapBlue, 1.1, csX, csY);
addRings(gapCyan, 2.4, csX, csY);
addRings(ringsPurpleOnBlue, 0.2, csX, csY);
addRings(ringsCyanEdge, 2.5, csX, csY);
addRings(ringsGreenOnBlue, 3.0, csX, csY);
addRings(ringsGreenOnOrange, 3.2, csX, csY);
addRings(ringsOrangeLight, 4.4, csX, csY);
addRings(ringsOrangeDeep, 5.0, csX, csY);
addRings(ringsRed, 5.6, csX, csY);

// benchmark markers
var triangle = d3.line()([[0, -20.5], [20.5, 20.5], [-20.5, 20.5]]) + "Z";
var markerPaths = [
  d3.symbol().type(d3.symbolCircle).size(Math.PI * 20.5 * 20.5)(),
  d3.symbol().type(d3.symbolSquare).size(41 * 41)(),
  d3.symbol().type(d3.symbolSquare).size(39 * 39)(),
  triangle
];
var markerRotate = [0, 0, 45, 0];

function drawMarker(sel, i) {
  sel.attr("d", markerPaths[i])
    .attr("fill", rainbow(pointValue[i]))
    .attr("stroke", "#000")
    .attr("stroke-width", 7)
    .attr("stroke-linejoin", "round");
}
svg.append("g").selectAll("path").data(pointNames).enter().append("path")
  .each(function(d, i) { drawMarker(d3.select(this), i); })
  .attr("transform", function(d, i) {
    return "translate(" + xScale(pointTheta1[i]) + "," + yScale(pointTheta2[i]) + ") rotate(" + markerRotate[i] + ")";
  });

// grid goes above the points
var grid = svg.append("g")
  .attr("stroke", "#b0b0b0").attr("stroke-width", 5.55).attr("stroke-dasharray", "5.55 9.17");
grid.selectAll(".gx").data(xTicks).enter().append("line").attr("class", "gx")
  .attr("x1", xScale).attr("x2", xScale).attr("y1", frame.bottom).attr("y2", frame.top);
grid.selectAll(".gy").data(yTicks).enter().append("line").attr("class", "gy")
  .attr("y1", yScale).attr("y2", yScale).attr("x1", frame.left).attr("x2", frame.right);

// axes
var fmt = d3.format(".1f");
var xAxis = svg.append("g").attr("transform", "translate(0," + frame.bottom + ")")
  .call(d3.axisBottom(xScale).tickValues(xTicks).tickFormat(fmt).tickSize(22).tickPadding(28));
var yAxis = svg.append("g").attr("transform", "translate(" + frame.left + ",0)")
  .call(d3.axisLeft(yScale).tickValues(yTicks).tickFormat(fmt).tickSize(22).tickPadding(28));
[xAxis, yAxis].forEach(function(a) {
  a.select(".domain").remove();
  a.selectAll("line").attr("stroke", "#000").attr("stroke-width", 4.4);
  a.selectAll("text").style("font-family", '"DejaVu Sans"').style("font-size", "89px").attr("fill", "#000");
});
xAxis.selectAll("text").attr("dy", null).attr("y", 115);
yAxis.selectAll("text").attr("dy", "0.36em").attr("x", -50);

svg.append("rect")
  .attr("x", frame.left).attr("y", frame.top)
  .attr("width", frame.right - frame.left).attr("height", frame.bottom - frame.top)
  .attr("fill", "none").attr("stroke", "#000").attr("stroke-width", 5.5);

// axis titles
var xTitle = svg.append("text").attr("x", 1394).attr("y", 2383)
  .attr("text-anchor", "middle").style("font-size", "111px");
xTitle.append("tspan").style("font-style", "italic").text("θ");
xTitle.append("tspan").attr("dy", 13).style("font-size", "78px").text("1");

var yTitle = svg.append("text")
  .attr("transform", "translate(88,1212) rotate(-90)")
  .attr("text-anchor", "middle").style("font-size", "111px");
yTitle.append("tspan").style("font-style", "italic").text("θ");
yTitle.append("tspan").attr("dy", 13).style("font-size", "78px").text("2");

// legend
var legend = svg.append("g");
legend.append("rect")
  .attr("x", 448).attr("y", 337).attr("width", 473).attr("height", 596).attr("rx", 16)
  .attr("fill", "#fff").attr("fill-opacity", 0.8)
  .attr("stroke", "#d6d6d6").attr("stroke-width", 5.5);
var legendY = [423, 565, 707, 848];
legend.selectAll("path").data(pointNames).enter().append("path")
  .each(function(d, i) { drawMarker(d3.select(this), i); })
  .attr("transform", function(d, i) { return "translate(586," + legendY[i] + ") rotate(" + markerRotate[i] + ")"; });
legend.selectAll("text").data(pointNames).enter().append("text")
  .attr("x", 760)
  .attr("y", function(d, i) { return legendY[i] + 26; })
  .style("font-size", "97px")
  .text(function(d) { return d; });

// colorbar
var barLeft = 2507, barRight = 2600;
var steps = d3.range(0, 256);
svg.append("g").selectAll("rect").data(steps).enter().append("rect")
  .attr("x", barLeft).attr("width", barRight - barLeft)
  .attr("y", function(d) { return barScale((d + 1) / 256 * barMax); })
  .attr("height", (frame.bottom - frame.top) / 256 + 0.6)
  .attr("fill", function(d) { return rainbow((d + 0.5) / 256 * barMax); });
svg.append("rect")
  .attr("x", barLeft).attr("y", frame.top)
  .attr("width", barRight - barLeft).attr("height", frame.bottom - frame.top)
  .attr("fill", "none").attr("stroke", "#000").attr("stroke-width", 5.5);

var barAxis = svg.append("g").attr("transform", "translate(" + barRight + ",0)")
  .call(d3.axisRight(barScale).tickValues(barTicks).tickFormat(d3.format("d")).tickSize(22).tickPadding(30));
barAxis.select(".domain").remove();
barAxis.selectAll("line").attr("stroke", "#000").attr("stroke-width", 4.4);
barAxis.selectAll("text").style("font-family", '"DejaVu Sans"').style("font-size", "89px").attr("fill", "#000").attr("dy", "0.36em");

var barTitle = svg.append("text")
  .attr("transform", "translate(2818,1212) rotate(-90)")
  .attr("text-anchor", "middle").style("font-size", "111px");
barTitle.append("tspan").text("log");
barTitle.append("tspan").attr("dy", 17).style("font-size", "78px").text("10");
barTitle.append("tspan").attr("dy", -17).attr("dx", 18).text("(");
barTitle.append("tspan").style("font-style", "italic").text("N");
barTitle.append("tspan").attr("dy", 17).style("font-size", "78px").text("events");
barTitle.append("tspan").attr("dy", -17).text(")");
</script>
</body>
</html>
